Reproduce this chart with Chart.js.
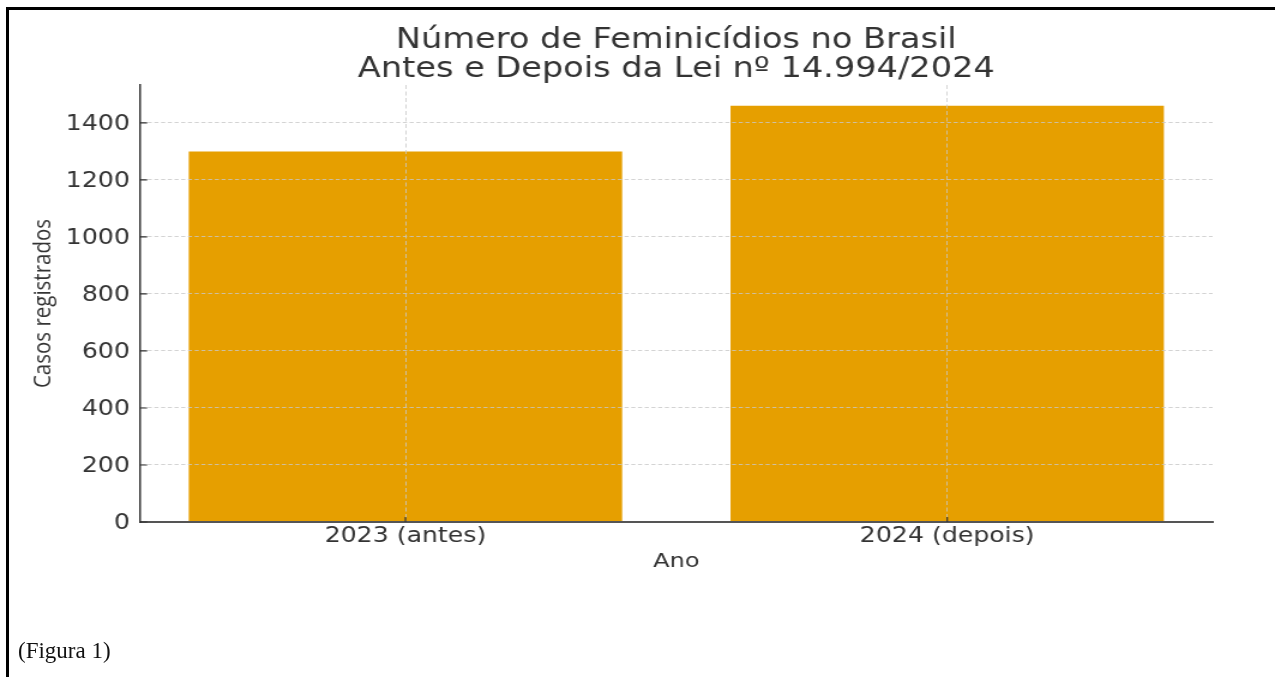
<!DOCTYPE html>
<html>
<head>
<meta charset="utf-8">
<script src="https://cdn.jsdelivr.net/npm/chart.js@4"></script>
<style>
html,body{margin:0;padding:0;background:#fff;width:1275px;height:677px;overflow:hidden;}
#wrap{position:absolute;left:0;top:0;width:1063px;height:677px;transform:scaleX(1.19944);transform-origin:0 0;}
#frameTop{position:absolute;left:6px;top:7px;width:1269px;height:3px;background:#000;}
#frameLeft{position:absolute;left:6px;top:7px;width:3px;height:670px;background:#000;}
#caption{position:absolute;left:18px;top:638px;line-height:26px;font-family:'Liberation Serif',serif;font-size:23px;color:#111;}
</style>
</head>
<body>
<div id="wrap"><canvas id="c" width="1063" height="677"></canvas></div>
<div id="frameTop"></div>
<div id="frameLeft"></div>
<div id="caption">(Figura 1)</div>
<script>
const titleLines = ['Número de Feminicídios no Brasil', 'Antes e Depois da Lei nº 14.994/2024'];
const categories = ['2023 (antes)', '2024 (depois)'];
const casos = [1300, 1460];
const yTickValues = [0, 200, 400, 600, 800, 1000, 1200, 1400];
const yMax = 1533;
const xTitle = 'Ano';
const yTitle = 'Casos registrados';

const gridColor = 'rgba(200,200,200,0.8)';
const textColor = '#333333';

const innerTicks = {
  id: 'innerTicks',
  afterDraw(chart) {
    const {ctx, chartArea: a, scales: {x, y}} = chart;
    ctx.save();
    ctx.strokeStyle = '#333';
    ctx.lineWidth = 1.2;
    ctx.setLineDash([]);
    ctx.beginPath();
    y.ticks.forEach(t => { const p = y.getPixelForValue(t.value); ctx.moveTo(a.left, p); ctx.lineTo(a.left + 6, p); });
    x.ticks.forEach(t => { const p = x.getPixelForValue(t.value); ctx.moveTo(p, a.bottom); ctx.lineTo(p, a.bottom - 5); });
    ctx.stroke();
    ctx.restore();
  }
};

new Chart(document.getElementById('c'), {
  type: 'bar',
  data: {
    datasets: [{
      data: categories.map((c, i) => ({x: i, y: casos[i]})),
      backgroundColor: '#E69F00',
      borderWidth: 0,
      barPercentage: 0.8,
      categoryPercentage: 1.0
    }]
  },
  options: {
    responsive: false,
    animation: false,
    devicePixelRatio: 1,
    layout: {padding: {left: 0, right: 52, top: 0, bottom: 87}},
    plugins: {
      legend: {display: false},
      tooltip: {enabled: false},
      title: {
        display: true, text: titleLines, fullSize: false,
        font: {family: 'DejaVu Sans', size: 28, weight: 'normal', lineHeight: 1.036},
        color: textColor, padding: {top: 26, bottom: 1}
      }
    },
    scales: {
      x: {
        type: 'linear', min: -0.49, max: 1.49, offset: false,
        afterBuildTicks: s => { s.ticks = categories.map((c, i) => ({value: i})); },
        afterFit: s => { s.height = 68; },
        ticks: {
          callback: v => categories[v], autoSkip: false, maxRotation: 0, minRotation: 0, padding: 2,
          font: {family: 'DejaVu Sans', size: 21}, color: textColor, z: 1
        },
        grid: {color: gridColor, lineWidth: 1, drawTicks: false, offset: false, z: 1},
        border: {display: true, color: '#555', width: 2, dash: [4, 2.5], z: 2},
        title: {display: true, text: xTitle, font: {family: 'DejaVu Sans', size: 20}, color: textColor, padding: {top: 0, bottom: 16}}
      },
      y: {
        min: 0, max: yMax,
        afterBuildTicks: s => { s.ticks = yTickValues.map(v => ({value: v})); },
        afterFit: s => { s.width = 116.7; },
        ticks: {padding: 8.4, labelOffset: 1.5, font: {family: 'DejaVu Sans', size: 21}, color: textColor, z: 1, callback: v => String(v)},
        grid: {color: gridColor, lineWidth: 1, drawTicks: false, z: 1},
        border: {display: true, color: '#333', width: 1.5, dash: [3.4, 2.2], z: 2},
        title: {display: true, text: yTitle, font: {family: 'Open Sans', size: 20.5}, color: textColor, padding: {top: 24, bottom: 0}}
      }
    }
  },
  plugins: [innerTicks]
});
</script>
</body>
</html>
